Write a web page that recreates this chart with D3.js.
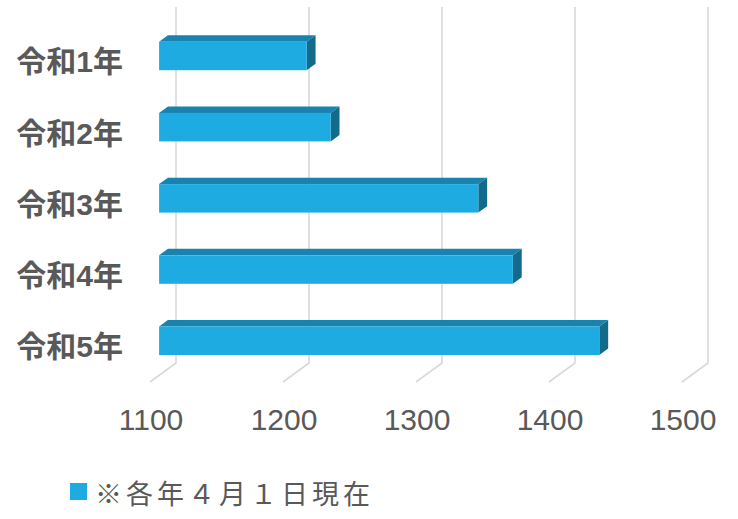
<!DOCTYPE html>
<html>
<head>
<meta charset="utf-8">
<script src="https://cdn.jsdelivr.net/npm/d3@7"></script>
<style>
    body { margin: 0; background: #fff; }
    svg { display: block; }
</style>
</head>
<body>
<div id="chart"></div>
<script>
var categories = ['令和1年', '令和2年', '令和3年', '令和4年', '令和5年'];
var values = [1211, 1229, 1340, 1366, 1431];
var ticks = [1100, 1200, 1300, 1400, 1500];
var legendLabel = '※各年４月１日現在';

var width = 738,
    height = 519;

// back wall of the 3d box
var wall = { top: 7, bottom: 363 };
// depth vector of the floor (back -> front)
var depth = { dx: -26, dy: 19 };
// bar front / back planes, as fraction of depth
var barFront = 0.65,
    barBack = 0.31;

var COLORS = {
    front: '#1eabe2',
    top: '#1883ae',
    side: '#136b8c',
    grid: '#d9d9d9',
    text: '#595959'
};

var svg = d3.select('#chart').append('svg')
    .attr('width', width)
    .attr('height', height);

var x = d3.scaleLinear().domain([1100, 1500]).range([176, 708]);
var y = d3.scaleBand().domain(categories).range([wall.top, wall.bottom]).paddingInner(0.6).paddingOuter(0.3);

// gridlines: back wall + floor slant
var grid = svg.append('g').attr('class', 'grid');
ticks.forEach(function (t) {
    var gx = x(t);
    grid.append('path')
        .attr('d', 'M' + gx + ',' + wall.top + 'L' + gx + ',' + wall.bottom +
            'L' + (gx + depth.dx) + ',' + (wall.bottom + depth.dy))
        .attr('fill', 'none')
        .attr('stroke', COLORS.grid)
        .attr('stroke-width', 1.6);
});

// bars
var bars = svg.append('g').attr('class', 'bars');
categories.forEach(function (c, i) {
    var fx = depth.dx * barFront, fy = depth.dy * barFront;
    var bx = depth.dx * barBack, by = depth.dy * barBack;
    var x0 = x(1100), x1 = x(values[i]);
    var y0 = y(c) + 1, y1 = y(c) + y.bandwidth() + 1;

    // top face
    bars.append('path')
        .attr('d', 'M' + (x0 + fx) + ',' + (y0 + fy) + 'L' + (x1 + fx) + ',' + (y0 + fy) +
            'L' + (x1 + bx) + ',' + (y0 + by) + 'L' + (x0 + bx) + ',' + (y0 + by) + 'Z')
        .attr('fill', COLORS.top);
    // right face
    bars.append('path')
        .attr('d', 'M' + (x1 + fx) + ',' + (y0 + fy) + 'L' + (x1 + bx) + ',' + (y0 + by) +
            'L' + (x1 + bx) + ',' + (y1 + by) + 'L' + (x1 + fx) + ',' + (y1 + fy) + 'Z')
        .attr('fill', COLORS.side);
    // front face
    bars.append('rect')
        .attr('x', x0 + fx)
        .attr('y', y0 + fy)
        .attr('width', x1 - x0)
        .attr('height', y1 - y0)
        .attr('fill', COLORS.front);
});

// category labels (front plane of the floor)
svg.append('g').selectAll('text')
    .data(categories)
    .enter().append('text')
    .attr('x', 123)
    .attr('y', function (d) { return y(d) + y.bandwidth() / 2 + depth.dy; })
    .attr('dy', '0.36em')
    .attr('text-anchor', 'end')
    .style('font-family', '"Liberation Sans", "Noto Sans CJK JP", sans-serif')
    .style('font-weight', 'bold')
    .style('font-size', '30px')
    .style('fill', COLORS.text)
    .text(function (d) { return d; });

// value axis labels
svg.append('g').selectAll('text')
    .data(ticks)
    .enter().append('text')
    .attr('x', function (d) { return x(d) + depth.dx + 1; })
    .attr('y', 430)
    .attr('text-anchor', 'middle')
    .style('font-family', '"Liberation Sans", "Noto Sans CJK JP", sans-serif')
    .style('font-size', '30px')
    .style('fill', COLORS.text)
    .text(function (d) { return d; });

// legend
var legend = svg.append('g');
legend.append('rect')
    .attr('x', 70).attr('y', 483)
    .attr('width', 17).attr('height', 17)
    .attr('fill', COLORS.front);
legend.append('text')
    .attr('x', 95)
    .attr('y', 504)
    .style('font-family', '"Noto Sans CJK JP", sans-serif')
    .style('font-size', '27px')
    .style('letter-spacing', '4px')
    .style('fill', COLORS.text)
    .text(legendLabel);
</script>
</body>
</html>
